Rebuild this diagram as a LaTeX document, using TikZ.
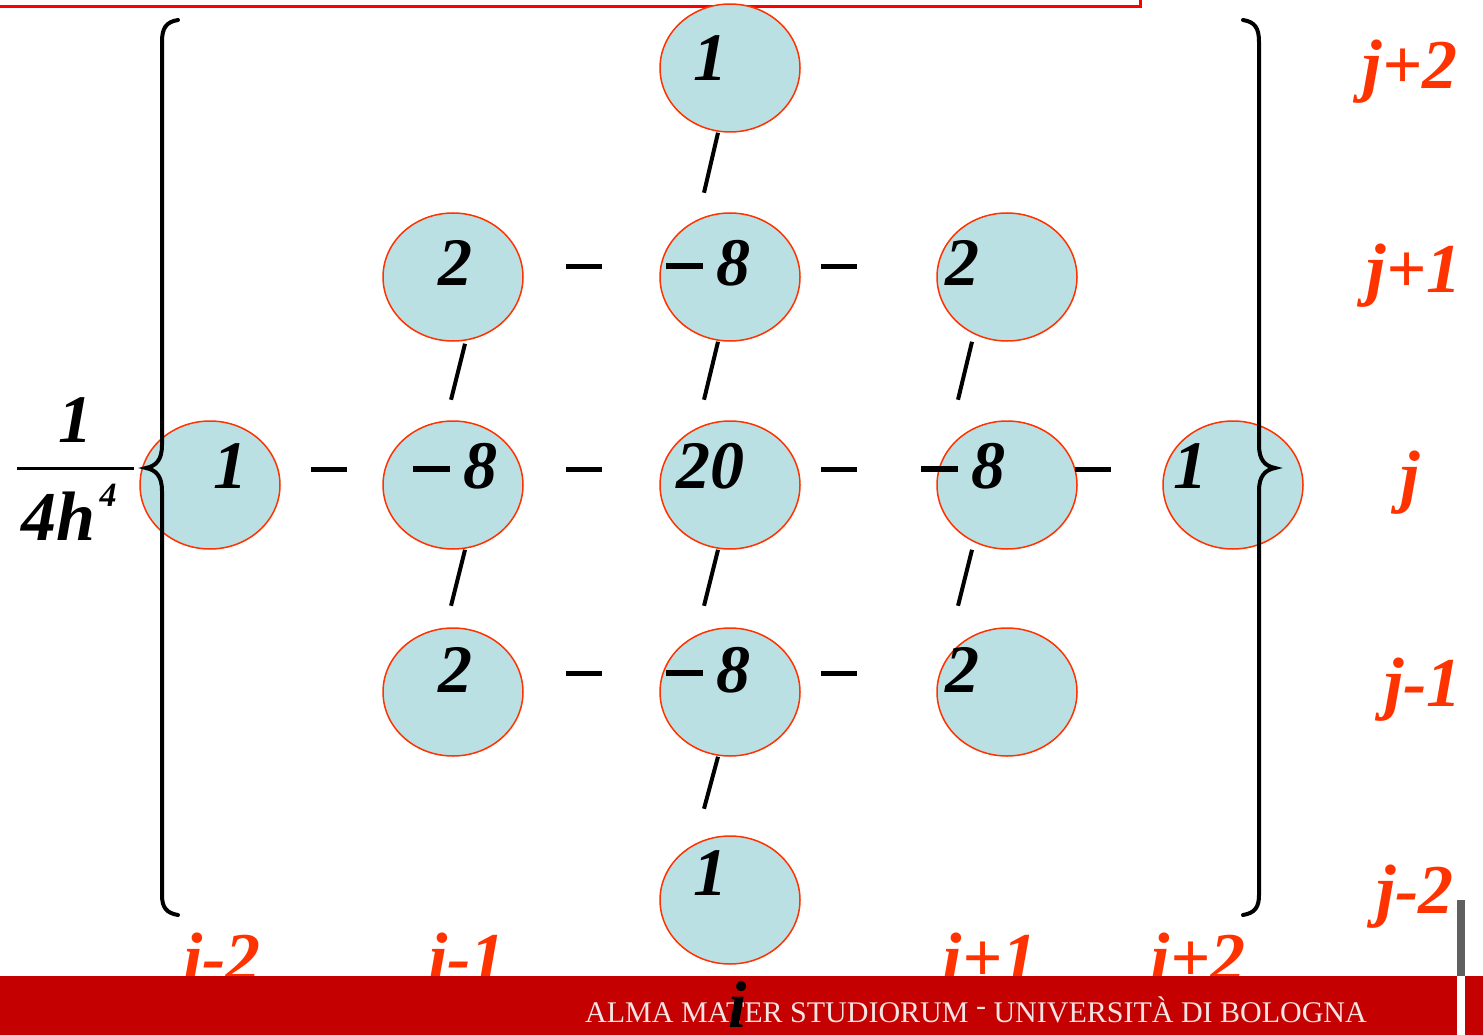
\documentclass[tikz,border=0pt]{standalone}
\usepackage{fontspec}
\setmainfont{Liberation Serif}
\usetikzlibrary{shapes.geometric,calc}
\definecolor{cellfill}{HTML}{BBE0E3}
\definecolor{cellline}{HTML}{FF3300}
\definecolor{lblred}{HTML}{FF3300}
\definecolor{bandred}{HTML}{C40000}
\definecolor{bandtext}{HTML}{F4E4E4}
\definecolor{bargray}{HTML}{606060}
\newcommand{\bigminus}{\rule[0.24em]{0.55em}{0.085em}\hspace{0.2em}}
\tikzset{
  cell/.style={ellipse, draw=cellline, fill=cellfill, line width=1.5pt, minimum width=140pt, minimum height=128pt, inner sep=0pt},
  num/.style={font=\fontsize{68}{68}\selectfont\bfseries\itshape, inner sep=0pt},
  idx/.style={font=\fontsize{70}{70}\selectfont\bfseries\itshape, text=lblred, inner sep=0pt},
  bar/.style={line width=5pt},
  slash/.style={line width=4pt},
  brace/.style={line width=4pt, line cap=round},
}
\begin{document}
\begin{tikzpicture}[x=1pt,y=-1pt]
\useasboundingbox (0,0) rectangle (1483,1035);
% top red frame edge
\draw[red, line width=3pt] (0,7) -- (1140,7) -- (1140,0);
% ellipses
\node[cell] (c0) at (730,68) {};
\node[cell] (c1a) at (453,277) {};
\node[cell] (c1b) at (730,277) {};
\node[cell] (c1c) at (1007,277) {};
\node[cell] (c2a) at (210,485) {};
\node[cell] (c2b) at (453,485) {};
\node[cell] (c2c) at (730,485) {};
\node[cell] (c2d) at (1007,485) {};
\node[cell] (c2e) at (1233,485) {};
\node[cell] (c3a) at (453,692) {};
\node[cell] (c3b) at (730,692) {};
\node[cell] (c3c) at (1007,692) {};
\node[cell] (c4) at (730,900) {};
% numbers
\node[num] (t0) at (710,58) {1};
\node[num] (t1a) at (455,263) {2};
\node[num] (t1b) at (708,263) {\bigminus 8};
\node[num] (t1c) at (962,263) {2};
\node[num] (t2a) at (230,466) {1};
\node[num] (t2b) at (455,466) {\bigminus 8};
\node[num] (t2c) at (710,466) {20};
\node[num] (t2d) at (963,466) {\bigminus 8};
\node[num] (t2e) at (1190,466) {1};
\node[num] (t3a) at (455,670) {2};
\node[num] (t3b) at (708,670) {\bigminus 8};
\node[num] (t3c) at (962,670) {2};
\node[num] (t4) at (710,873) {1};
% horizontal dashes
\draw[bar] (311,469) -- (347,469);
\draw[bar] (566,469) -- (602,469);
\draw[bar] (821,469) -- (857,469);
\draw[bar] (1075,469) -- (1111,469);
\draw[bar] (566,266) -- (602,266);
\draw[bar] (821,266) -- (857,266);
\draw[bar] (566,673) -- (602,673);
\draw[bar] (821,673) -- (857,673);
% slashes
\draw[slash] ($(c0.south)+(-12,0)$) -- ++(-14,60);
\draw[slash] ($(c1a.south)+(12,2)$) -- ++(-14,56);
\draw[slash] ($(c1b.south)+(-12,0)$) -- ++(-14,58);
\draw[slash] ($(c1c.south)+(-35,0)$) -- ++(-14,58);
\draw[slash] ($(c2b.south)+(12,0)$) -- ++(-14,56);
\draw[slash] ($(c2c.south)+(-12,0)$) -- ++(-14,56);
\draw[slash] ($(c2d.south)+(-35,0)$) -- ++(-14,56);
\draw[slash] ($(c3b.south)+(-12,0)$) -- ++(-14,52);
% braces
\draw[brace] (178,20) .. controls (166,22) and (162,28) .. (162,42) -- (162,445) .. controls (162,460) and (156,466) .. (146,468) .. controls (156,470) and (162,476) .. (162,491) -- (162,895) .. controls (162,907) and (166,913) .. (178,915);
\draw[brace] (1243,20) .. controls (1255,22) and (1259,28) .. (1259,42) -- (1259,445) .. controls (1259,460) and (1265,466) .. (1275,468) .. controls (1265,470) and (1259,476) .. (1259,491) -- (1259,895) .. controls (1259,907) and (1255,913) .. (1243,915);
% fraction
\node[num, font=\fontsize{68}{68}\selectfont\bfseries\itshape] (fn) at (75,420) {1};
\draw[line width=3pt] (17,468) -- (134,468);
\node[num, font=\fontsize{70}{70}\selectfont\bfseries\itshape, anchor=base] (fd) at (58,540) {4h};
\node[num, font=\fontsize{34}{34}\selectfont\bfseries\itshape] (fe) at (108,495) {4};
% index labels
\node[idx] (j2) at (1410,72) {j+2};
\node[idx] (j1) at (1414,276) {j+1};
\node[idx] (j0) at (1410,483) {j};
\node[idx] (jm1) at (1423,690) {j-1};
\node[idx] (jm2) at (1415,897) {j-2};
\node[idx] (im2) at (222,957) {i-2};
\node[idx] (im1) at (467,957) {i-1};
\node[idx] (ip1) at (990,957) {i+1};
\node[idx] (ip2) at (1198,957) {i+2};
% bottom band
\fill[bandred] (0,976) rectangle (1457,1035);
\fill[bandred] (1465,976) rectangle (1483,1035);
\fill[bargray] (1457,900) rectangle (1465,976);
\node[anchor=base west, inner sep=0pt, text=bandtext, font=\fontsize{30}{30}\selectfont] (band) at (585,1022) {ALMA MATER STUDIORUM \raisebox{0.5ex}{-} UNIVERSITÀ DI BOLOGNA};
\node[num, font=\fontsize{66}{66}\selectfont\bfseries\itshape] (i0) at (738,1005) {i};
\end{tikzpicture}
\end{document}
